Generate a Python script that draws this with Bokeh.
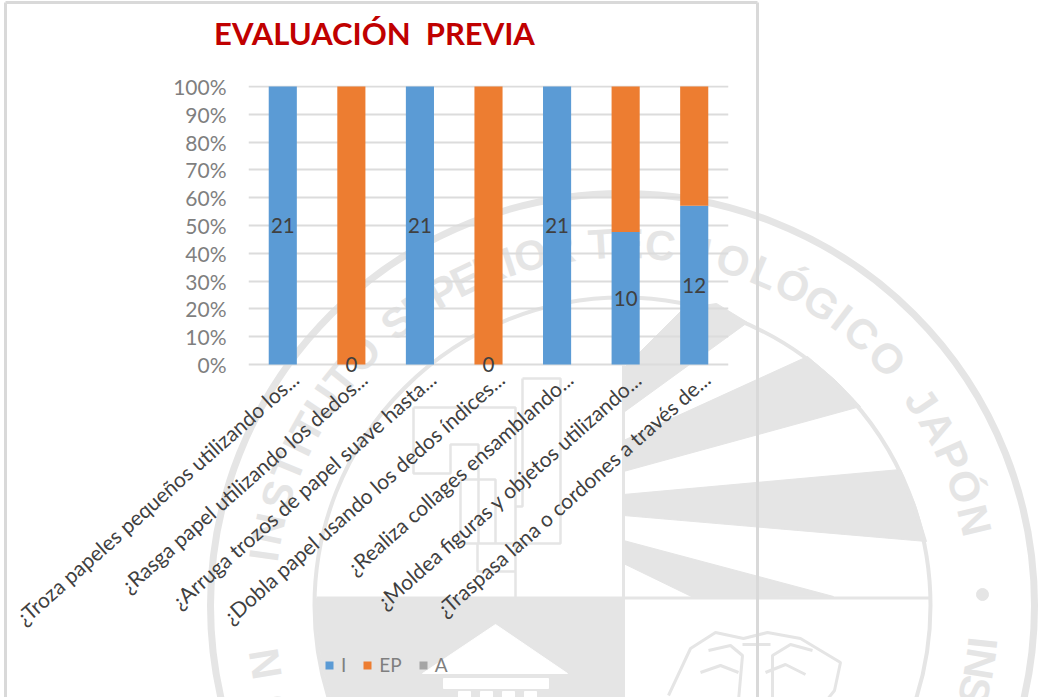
import numpy as np
from bokeh.embed import file_html
from bokeh.resources import INLINE
from bokeh.plotting import figure
from bokeh.core.properties import value
from bokeh.models import (ColumnDataSource, Range1d, FixedTicker, CustomJSTickFormatter,
                          Legend, LegendItem, LinearAxis)

title_text = "EVALUACIÓN \u00a0PREVIA"
categories = [
    "¿Troza papeles pequeños utilizando los...",
    "¿Rasga papel utilizando los dedos...",
    "¿Arruga trozos de papel suave hasta...",
    "¿Dobla papel usando los dedos índices...",
    "¿Realiza collages ensamblando...",
    "¿Moldea figuras y objetos utilizando...",
    "¿Traspasa lana o cordones a través de...",
]
series_names = ["I", "EP", "A"]
series_colors = ["#5B9BD5", "#ED7D31", "#A5A5A5"]
series_I = [21, 0, 21, 0, 21, 10, 12]
series_EP = [0, 21, 0, 21, 0, 11, 9]
series_A = [0, 0, 0, 0, 0, 0, 0]
y_ticks = [0, .1, .2, .3, .4, .5, .6, .7, .8, .9, 1]

W, H = 1040, 697
WM = "#e5e5e5"
FONT = "Lato"

# ---------- watermark layer (page pixels) ----------
bg = figure(width=W, height=H, x_range=Range1d(0, W), y_range=Range1d(H, 0),
            output_backend="svg", toolbar_location=None, min_border=0)
bg.axis.visible = False
bg.grid.visible = False
bg.outline_line_color = None
bg.background_fill_color = "white"
CX, CY, R_OUT, R_IN = 622, 605, 412, 308

a = np.linspace(np.pi, np.pi / 2, 60)
band_x = [623, 316] + list(CX + (R_IN - 2) * np.cos(a)) + [623]
band_y = [598, 598] + list(CY + (R_IN - 2) * np.sin(a)) + [700]
bg.patch(band_x, band_y, color=WM)
rays = [
    ([623, 683, 716, 747, 623], [368, 308, 303, 322, 412]),
    ([623, 807, 835, 860, 623], [440, 356, 380, 406, 471]),
    ([623, 900, 915, 926, 623], [494, 469, 505, 541, 515]),
    ([623, 833, 693, 623], [540, 596, 597, 563]),
]
for xs, ys in rays:
    bg.patch(xs, ys, color=WM)
bg.circle([CX], [CY], radius=R_OUT, fill_color=None, line_color=WM, line_width=7)
bg.circle([CX], [CY], radius=R_IN, fill_color=None, line_color=WM, line_width=4)
bg.line([316, 930], [597.5, 597.5], color=WM, line_width=3)
bg.line([623, 623], [365, 700], color=WM, line_width=3)

# small temple in the lower band
bg.patch([495, 567, 422], [624, 673, 673], color="white")
bg.patch([443, 548, 548, 443], [678, 678, 688, 688], color="white")
for x0 in (458, 480, 502, 524):
    bg.patch([x0, x0 + 12, x0 + 12, x0], [691, 691, 700, 700], color="white")

# maze outline
maze = [
    ([413, 515, 515], [407, 407, 603]),
    ([413, 413, 450, 450, 478, 478, 460, 460, 495, 495], [407, 473, 473, 444, 444, 543, 543, 479, 479, 543]),
    ([522, 560, 560, 560, 478], [378, 378, 526, 543, 543]),
    ([522, 522, 515], [378, 506, 506]),
    ([477, 477, 515], [543, 571, 571]),
]
for xs, ys in maze:
    bg.line(xs, ys, color=WM, line_width=2.5)

# panther head outline
lion = [
    ([668, 690, 715, 743, 767, 800, 840, 834, 826], [695, 648, 632, 638, 632, 638, 662, 690, 700]),
    ([700, 720, 738], [672, 665, 672]),
    ([765, 785, 805], [672, 664, 674]),
    ([708, 730, 742, 738], [650, 645, 655, 700]),
    ([812, 790, 772, 772], [650, 644, 655, 700]),
    ([742, 770], [644, 644]),
]
for xs, ys in lion:
    bg.line(xs, ys, color=WM, line_width=3)


def ring_word(word, a0, a1, radius=362):
    w = np.array([0.5 if c == "I" else 0.85 if c in "JTLE" else 1.15 if c in "ON" else 1.0 for c in word])
    mids = (np.cumsum(w) - w / 2) - w[0] / 2
    mids = mids / mids[-1]
    ang = np.radians(a0 + (a1 - a0) * mids)
    bg.text(CX + radius * np.sin(ang), CY - radius * np.cos(ang), text=list(word), angle=-ang,
            text_font=value("Liberation Sans"), text_font_style="bold", text_font_size="42px",
            text_color=WM, text_align="center", text_baseline="middle")


ring_word("INSTITUTO", -82, -46)
ring_word("SUPERIOR", -38.5, -10)
ring_word("TECNOLÓGICO", -3.4, 47)
ring_word("JAPÓN", 55.7, 76.4)
ring_word("INS", 96, 103.5)
ring_word("NO", -99.3, -107)
bg.scatter([982], [594], size=12, color=WM)

# frame of the pasted chart
bg.line([5, 5], [2, 700], color="#d9d9d9", line_width=3)
bg.line([5, 757], [2, 2], color="#d9d9d9", line_width=3)
bg.line([757, 757], [2, 700], color="#d9d9d9", line_width=3)

bg.text([374], [32], text=[title_text], text_font=value(FONT), text_font_style="bold", text_font_size="31px",
        text_color="#C00000", text_align="center", text_baseline="middle")

# legend keys sit on the full-page layer, so that the legend can lie below the axis labels
keys = [bg.vbar(x=[-50], top=[0], width=1, color=c, line_color=None) for c in series_colors]
legend = Legend(items=[LegendItem(label=n, renderers=[k]) for n, k in zip(series_names, keys)],
                orientation="horizontal", location=(320, 17),
                glyph_width=10, glyph_height=10, spacing=16, padding=4, margin=0, label_width=0,
                label_standoff=7, label_text_font=FONT, label_text_font_size="19px",
                label_text_color="#7f7f7f", background_fill_alpha=0, border_line_alpha=0)
bg.add_layout(legend, "center")

# ---------- chart layer ----------
totals = np.array(series_I) + np.array(series_EP) + np.array(series_A)
src = ColumnDataSource(dict(
    pos=np.arange(len(categories)),
    I=np.array(series_I) / totals,
    EP=np.array(series_EP) / totals,
    A=np.array(series_A) / totals,
    label_y=np.array(series_I) / totals / 2,
    label=[str(v) for v in series_I],
))

p = figure(width=W, height=H, frame_width=480, frame_height=289, x_range=Range1d(-0.5, len(categories) - 0.5),
           y_range=Range1d(-0.036, 1.0036), output_backend="svg", toolbar_location=None,
           x_axis_location=None,
           min_border_left=248, min_border_right=312, min_border_top=85, min_border_bottom=318)
p.background_fill_alpha = 0
p.border_fill_alpha = 0
p.outline_line_color = None

rs = p.vbar_stack(series_names, x="pos", width=0.41, source=src, color=series_colors, line_color=None)

p.text(x="pos", y="label_y", text="label", source=src, text_font=value(FONT), text_font_size="20.5px",
       text_color="#404040", text_align="center", text_baseline="middle")

p.ygrid.ticker = FixedTicker(ticks=y_ticks)
p.ygrid.grid_line_color = "#dcdcdc"
p.ygrid.grid_line_width = 2
p.xgrid.visible = False

p.yaxis.ticker = FixedTicker(ticks=y_ticks)
p.yaxis.formatter = CustomJSTickFormatter(code="return Math.round(tick * 100) + '%'")
p.yaxis.axis_line_color = None
p.yaxis.major_tick_line_color = None
p.yaxis.minor_tick_line_color = None
p.yaxis.major_label_text_font = FONT
p.yaxis.major_label_text_font_size = "21px"
p.yaxis.major_label_text_color = "#7f7f7f"
p.yaxis.major_label_standoff = 16

# category labels: own axis so that the label ends sit right of the bar centres, as in the reference
shift = 0.18
p.extra_x_ranges["labels"] = Range1d(-0.5 - shift, len(categories) - 0.5 - shift)
xa = LinearAxis(x_range_name="labels", ticker=FixedTicker(ticks=list(range(len(categories)))),
                major_label_overrides={i: c for i, c in enumerate(categories)},
                axis_line_color=None, major_tick_line_color=None, minor_tick_line_color=None,
                major_label_orientation=0.725, major_label_text_font=FONT,
                major_label_text_font_size="21px", major_label_text_color="#404040",
                major_label_standoff=-5)
p.add_layout(xa, "below")

bg.styles = {"position": "absolute", "top": "0px", "left": "0px"}
p.styles = {"position": "absolute", "top": "0px", "left": "0px"}

open("out.html", "w").write(file_html([bg, p], INLINE))
